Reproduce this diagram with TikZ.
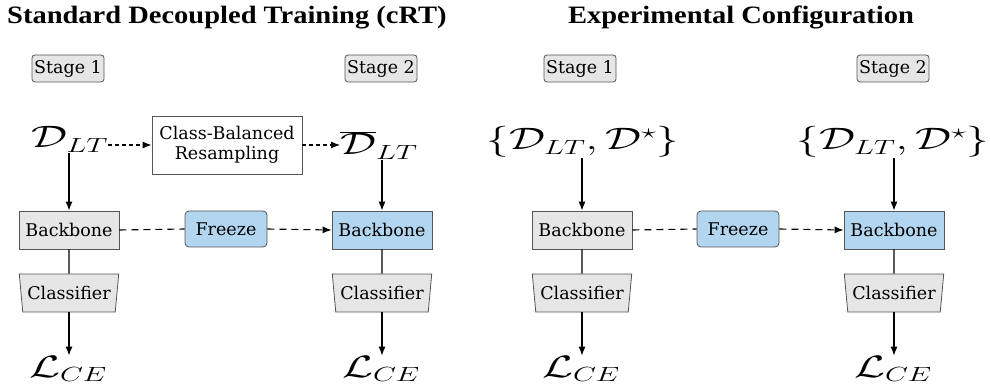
\RequirePackage{fix-cm}
\documentclass[tikz,border=0pt]{standalone}
\usepackage[no-math]{fontspec}
\usepackage{graphicx}
\setmainfont{DejaVu Serif}
\newfontfamily\titlefont{Liberation Serif}[FakeStretch=1.14]
\usetikzlibrary{arrows.meta,shapes.geometric,calc}
\DeclareMathSizes{31}{31}{20.5}{15}
\definecolor{boxgray}{RGB}{230,230,230}
\definecolor{boxblue}{RGB}{178,214,240}
\definecolor{edgegray}{RGB}{85,85,85}
% wide display maths for the data and loss symbols
\newcommand{\widemath}[1]{\scalebox{1.45}[1]{\fontsize{31}{34}\selectfont$#1$}}
\tikzset{
  lbl/.style={font=\fontsize{17.5}{20}\selectfont},
  stagebox/.style={lbl, draw=edgegray, fill=boxgray, rounded corners=3pt,
    minimum width=72, minimum height=27, inner sep=0pt, line width=0.8pt},
  block/.style={lbl, draw=edgegray, minimum width=100, minimum height=38,
    inner sep=0pt, line width=0.8pt},
  graybox/.style={block, fill=boxgray},
  bluebox/.style={block, fill=boxblue},
  freezebox/.style={lbl, draw=edgegray, fill=boxblue, rounded corners=4pt,
    minimum width=82, minimum height=36, inner sep=0pt, line width=0.8pt},
  clsbox/.style={lbl, trapezium, shape border rotate=180, trapezium stretches=true,
    trapezium angle=77, minimum width=100, minimum height=38, inner sep=0pt,
    draw=edgegray, fill=boxgray, line width=0.8pt},
  cbrbox/.style={lbl, draw=edgegray, fill=white, minimum width=150,
    minimum height=58, inner sep=0pt, align=center, line width=0.8pt},
  mathlbl/.style={inner sep=0pt, anchor=base},
  title/.style={font=\titlefont\bfseries\fontsize{25}{28}\selectfont, inner sep=0pt},
  arr/.style={-{Latex[length=9pt,width=7pt]}, line width=1.1pt},
  dasharr/.style={line width=1.1pt, dash pattern=on 7pt off 5pt},
  dotarr/.style={line width=1.1pt, dash pattern=on 4pt off 3pt}
}
\begin{document}
\begin{tikzpicture}[x=1pt,y=-1pt]
\useasboundingbox (0,0) rectangle (990,387);

% titles
\node[title, anchor=base west] (t1) at (7,24) {Standard Decoupled Training (cRT)};
\node[title, anchor=base] (t2) at (741,24) {Experimental Configuration};

% ---- standard decoupled training ----
\node[stagebox] (s1a) at (68,68.5) {Stage 1};
\node[stagebox] (s2a) at (381,68.5) {Stage 2};

\node[mathlbl] (d1) at (70,148) {\widemath{\mathcal{D}_{LT}}};
\node[cbrbox] (cbr) at (227,145) {Class-Balanced\\Resampling};
\node[mathlbl] (d2) at (379,155) {\widemath{\overline{\mathcal{D}}_{LT}}};

\node[graybox] (bb1) at (69,230) {Backbone};
\node[freezebox] (fz1) at (226,229) {Freeze};
\node[bluebox] (bb2) at (382,230) {Backbone};

\node[clsbox] (cl1) at (69,293) {Classifier};
\node[clsbox] (cl2) at (382,293) {Classifier};

\node[mathlbl] (l1) at (68,377) {\widemath{\mathcal{L}_{CE}}};
\node[mathlbl] (l2) at (381,377) {\widemath{\mathcal{L}_{CE}}};

\draw[dotarr, -{Latex[length=9pt,width=7pt]}] (d1.east |- cbr.west) -- (cbr.west);
\draw[dotarr, -{Latex[length=9pt,width=7pt]}] (cbr.east) -- (cbr.east -| d2.west);
\draw[arr] (d1.south -| bb1.north) -- (bb1.north);
\draw[arr] (d2.south -| bb2.north) -- (bb2.north);
\draw[dasharr] (bb1.east) -- (fz1.west);
\draw[dasharr, -{Latex[length=9pt,width=7pt]}] (fz1.east) -- (bb2.west);
\draw[line width=1.1pt] (bb1.south) -- (cl1.north);
\draw[line width=1.1pt] (bb2.south) -- (cl2.north);
\draw[arr] (cl1.south) -- (l1.north -| cl1.south);
\draw[arr] (cl2.south) -- (l2.north -| cl2.south);

% ---- experimental configuration ----
\node[stagebox] (s1b) at (580,68.5) {Stage 1};
\node[stagebox] (s2b) at (893,68.5) {Stage 2};

\node[mathlbl] (d3) at (583,150) {\widemath{\{\mathcal{D}_{LT},\mathcal{D}^{\star}\}}};
\node[mathlbl] (d4) at (893,150) {\widemath{\{\mathcal{D}_{LT},\mathcal{D}^{\star}\}}};

\node[graybox] (bb3) at (582,230) {Backbone};
\node[freezebox] (fz2) at (738,229) {Freeze};
\node[bluebox] (bb4) at (894,230) {Backbone};

\node[clsbox] (cl3) at (582,293) {Classifier};
\node[clsbox] (cl4) at (894,293) {Classifier};

\node[mathlbl] (l3) at (581,377) {\widemath{\mathcal{L}_{CE}}};
\node[mathlbl] (l4) at (893,377) {\widemath{\mathcal{L}_{CE}}};

\draw[arr] (d3.south -| bb3.north) -- (bb3.north);
\draw[arr] (d4.south -| bb4.north) -- (bb4.north);
\draw[dasharr] (bb3.east) -- (fz2.west);
\draw[dasharr, -{Latex[length=9pt,width=7pt]}] (fz2.east) -- (bb4.west);
\draw[line width=1.1pt] (bb3.south) -- (cl3.north);
\draw[line width=1.1pt] (bb4.south) -- (cl4.north);
\draw[arr] (cl3.south) -- (l3.north -| cl3.south);
\draw[arr] (cl4.south) -- (l4.north -| cl4.south);
\end{tikzpicture}
\end{document}
